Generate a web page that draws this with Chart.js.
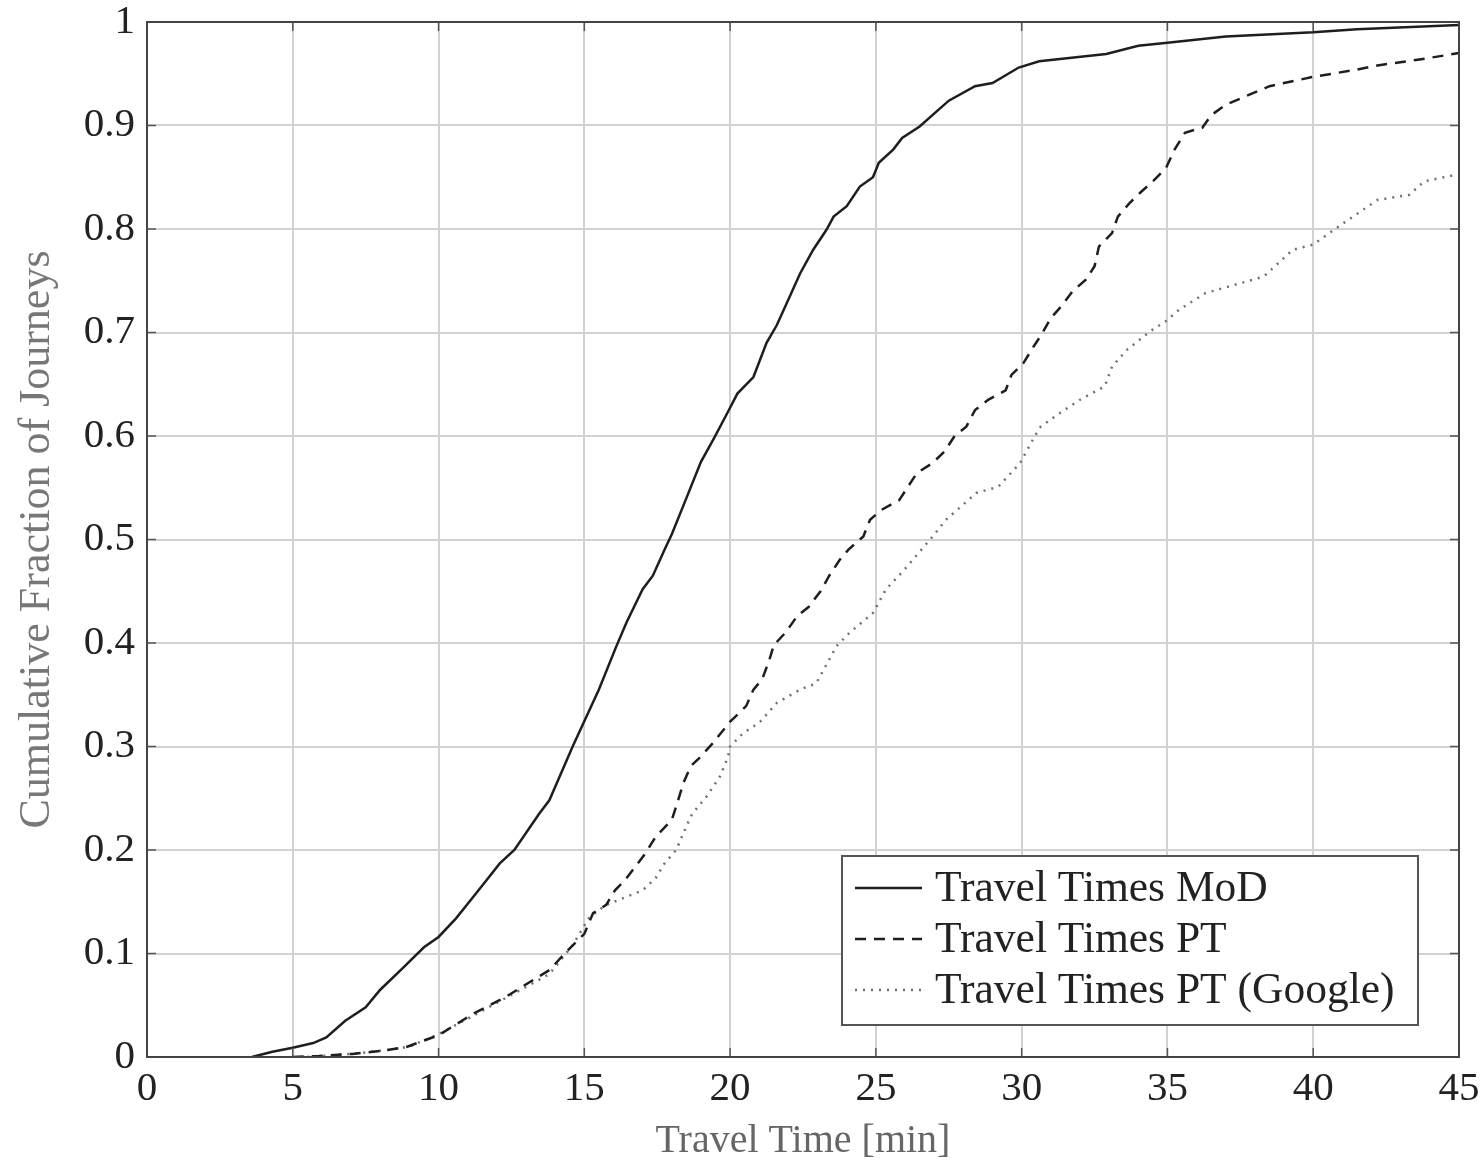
<!DOCTYPE html>
<html>
<head>
<meta charset="utf-8">
<title>Travel time CDF</title>
<script src="https://cdn.jsdelivr.net/npm/chart.js@4.4.1/dist/chart.umd.min.js"></script>
<style>
    html, body { margin: 0; padding: 0; background: #fff; }
    #chart { display: block; }
</style>
</head>
<body>
<canvas id="chart" width="1484" height="1165"></canvas>
<script>
// values (minutes / cumulative fraction)
const modTimes = [3.6, 4.3, 5, 5.7, 6.15, 6.8, 7.5, 8, 8.7, 9.5, 10, 10.6, 11.2, 11.65, 12.1, 12.6, 13.45, 13.8, 14.6, 15.5, 16.1, 16.45, 17, 17.35, 17.75, 18, 18.5, 19, 19.45, 19.9, 20.25, 20.8, 21.25, 21.6, 22.05, 22.4, 22.85, 23.3, 23.55, 24, 24.45, 24.9, 25.1, 25.6, 25.9, 26.5, 27.5, 28.4, 29, 29.9, 30.6, 32.9, 34, 35, 37, 40, 41.5, 45];
const modFrac = [0, 0.005, 0.009, 0.0135, 0.019, 0.035, 0.048, 0.065, 0.084, 0.106, 0.116, 0.134, 0.155, 0.171, 0.187, 0.2, 0.235, 0.248, 0.3, 0.355, 0.397, 0.42, 0.452, 0.465, 0.49, 0.505, 0.54, 0.575, 0.598, 0.622, 0.641, 0.657, 0.69, 0.707, 0.735, 0.757, 0.78, 0.799, 0.812, 0.822, 0.841, 0.85, 0.864, 0.877, 0.888, 0.899, 0.924, 0.938, 0.941, 0.956, 0.962, 0.969, 0.977, 0.98, 0.986, 0.99, 0.993, 0.997];

const ptTimes = [5, 5.9, 7.05, 8.2, 8.9, 10, 11.2, 12.3, 13.8, 14.5, 15, 15.3, 15.75, 16.05, 16.4, 17.1, 17.45, 18, 18.15, 18.4, 18.65, 18.95, 19.4, 20, 20.55, 20.8, 21.1, 21.35, 21.5, 21.9, 22.3, 22.7, 23.1, 23.4, 23.75, 24.05, 24.57, 24.8, 25.15, 25.8, 26.1, 26.4, 26.95, 27.35, 27.7, 28.1, 28.4, 28.85, 29.45, 29.65, 30.05, 30.4, 30.7, 31, 31.35, 31.75, 32.2, 32.5, 32.65, 33.1, 33.3, 33.7, 34.1, 34.5, 34.95, 35.25, 35.6, 36.2, 36.5, 37, 38.5, 40, 41.5, 42.2, 43.7, 45];
const ptFrac = [0, 0.001, 0.003, 0.0065, 0.0097, 0.021, 0.042, 0.058, 0.084, 0.105, 0.119, 0.139, 0.147, 0.161, 0.171, 0.197, 0.213, 0.229, 0.242, 0.265, 0.281, 0.289, 0.303, 0.324, 0.339, 0.355, 0.365, 0.384, 0.398, 0.41, 0.426, 0.435, 0.45, 0.465, 0.48, 0.49, 0.503, 0.519, 0.528, 0.538, 0.551, 0.564, 0.574, 0.585, 0.6, 0.609, 0.625, 0.635, 0.644, 0.659, 0.67, 0.686, 0.699, 0.714, 0.725, 0.74, 0.751, 0.764, 0.783, 0.796, 0.812, 0.825, 0.836, 0.846, 0.859, 0.877, 0.893, 0.898, 0.91, 0.92, 0.938, 0.947, 0.954, 0.958, 0.964, 0.97];

const googleTimes = [5.5, 7, 8.2, 9, 10, 11.2, 12.3, 13.8, 14.6, 15.17, 15.75, 17, 17.45, 17.75, 18.15, 18.5, 18.7, 19.2, 19.65, 19.93, 20, 20.45, 21, 21.6, 22.4, 22.95, 23.4, 23.65, 24.1, 24.9, 25.35, 25.95, 26.95, 27.4, 28.45, 29.2, 29.95, 30.45, 30.65, 31.3, 32, 32.85, 33.1, 33.6, 34.4, 34.95, 35.4, 36.3, 38.3, 39.3, 40, 40.9, 42.2, 43.3, 43.8, 45];
const googleFrac = [0, 0.003, 0.0065, 0.01, 0.022, 0.04, 0.057, 0.08, 0.108, 0.135, 0.147, 0.161, 0.173, 0.187, 0.2, 0.223, 0.235, 0.252, 0.271, 0.29, 0.3, 0.313, 0.323, 0.342, 0.355, 0.361, 0.384, 0.397, 0.41, 0.429, 0.452, 0.47, 0.503, 0.519, 0.545, 0.551, 0.574, 0.6, 0.609, 0.622, 0.635, 0.648, 0.667, 0.683, 0.701, 0.711, 0.722, 0.738, 0.754, 0.78, 0.785, 0.803, 0.828, 0.833, 0.846, 0.853];

const seriesNames = ["Travel Times MoD", "Travel Times PT", "Travel Times PT (Google)"];
const xTicks = [0, 5, 10, 15, 20, 25, 30, 35, 40, 45];
const yTicks = [0, 0.1, 0.2, 0.3, 0.4, 0.5, 0.6, 0.7, 0.8, 0.9, 1];

const serif = "'Liberation Serif', 'DejaVu Serif', serif";

function toPoints(xs, ys) {
    return xs.map((x, i) => ({ x: x, y: ys[i] }));
}

// frame around the plot area with small inward ticks (pgfplots look)
const framePlugin = {
    id: "frame",
    afterDatasetsDraw(chart) {
        const { ctx, chartArea: a, scales } = chart;
        ctx.save();
        ctx.strokeStyle = "#555";
        ctx.lineWidth = 1.5;
        ctx.beginPath();
        xTicks.forEach(v => {
            let px = scales.x.getPixelForValue(v);
            ctx.moveTo(px, a.bottom); ctx.lineTo(px, a.bottom - 9);
            ctx.moveTo(px, a.top); ctx.lineTo(px, a.top + 9);
        });
        yTicks.forEach(v => {
            let py = scales.y.getPixelForValue(v);
            ctx.moveTo(a.left, py); ctx.lineTo(a.left + 9, py);
            ctx.moveTo(a.right, py); ctx.lineTo(a.right - 9, py);
        });
        ctx.stroke();
        ctx.strokeStyle = "#444";
        ctx.lineWidth = 2;
        ctx.strokeRect(a.left, a.top, a.right - a.left, a.bottom - a.top);
        ctx.restore();
    }
};

// legend box in the lower right corner of the plot
const legendPlugin = {
    id: "boxLegend",
    afterDraw(chart) {
        const { ctx, chartArea: a } = chart;
        const right = a.right - 41, bottom = a.bottom - 32;
        const w = 576, h = 169;
        const left = right - w, top = bottom - h;
        ctx.save();
        ctx.fillStyle = "#fff";
        ctx.fillRect(left, top, w, h);
        ctx.strokeStyle = "#555";
        ctx.lineWidth = 2;
        ctx.strokeRect(left, top, w, h);
        ctx.font = "43.5px " + serif;
        ctx.textBaseline = "middle";
        chart.data.datasets.forEach((ds, i) => {
            let y = top + 32 + i * 51;
            ctx.strokeStyle = ds.borderColor;
            ctx.lineWidth = ds.borderWidth;
            ctx.setLineDash(ds.borderDash || []);
            ctx.beginPath();
            ctx.moveTo(left + 13, y);
            ctx.lineTo(left + 80, y);
            ctx.stroke();
            ctx.setLineDash([]);
            ctx.fillStyle = "#222";
            ctx.fillText(ds.label, left + 93, y + 2);
        });
        ctx.restore();
    }
};

new Chart(document.getElementById("chart").getContext("2d"), {
    type: "line",
    data: {
        datasets: [
            {
                label: seriesNames[0],
                data: toPoints(modTimes, modFrac),
                borderColor: "#1e1e1e",
                borderWidth: 2.5,
                pointRadius: 0,
                tension: 0
            },
            {
                label: seriesNames[1],
                data: toPoints(ptTimes, ptFrac),
                borderColor: "#1e1e1e",
                borderWidth: 2.5,
                borderDash: [11, 8],
                pointRadius: 0,
                tension: 0
            },
            {
                label: seriesNames[2],
                data: toPoints(googleTimes, googleFrac),
                borderColor: "#707070",
                borderWidth: 2.5,
                borderDash: [2, 6],
                pointRadius: 0,
                tension: 0
            }
        ]
    },
    options: {
        responsive: false,
        animation: false,
        devicePixelRatio: 1,
        layout: { padding: { top: 22, right: 25, left: 0, bottom: 0 } },
        plugins: {
            legend: { display: false },
            tooltip: { enabled: false }
        },
        scales: {
            x: {
                type: "linear",
                min: 0,
                max: 45,
                afterBuildTicks: s => { s.ticks = xTicks.map(v => ({ value: v })); },
                afterFit: s => { s.height = 108; s.paddingRight = 0; s.paddingLeft = 0; },
                grid: { color: "#d2d2d2", lineWidth: 2, drawTicks: false },
                border: { display: false },
                ticks: {
                    padding: 8,
                    color: "#222",
                    font: { family: serif, size: 41 },
                    maxRotation: 0
                },
                title: {
                    display: true,
                    text: "Travel Time [min]",
                    color: "#666",
                    font: { family: serif, size: 40 },
                    padding: { top: 0, bottom: 0 }
                }
            },
            y: {
                type: "linear",
                min: 0,
                max: 1,
                afterBuildTicks: s => { s.ticks = yTicks.map(v => ({ value: v })); },
                afterFit: s => { s.width = 147; s.paddingTop = 0; s.paddingBottom = 0; },
                grid: { color: "#d2d2d2", lineWidth: 2, drawTicks: false },
                border: { display: false },
                ticks: {
                    padding: 12,
                    color: "#222",
                    font: { family: serif, size: 41 },
                    callback: v => String(Math.round(v * 10) / 10)
                },
                title: {
                    display: true,
                    text: "Cumulative Fraction of Journeys",
                    color: "#777",
                    font: { family: serif, size: 44 },
                    padding: { top: 11, bottom: 0 }
                }
            }
        }
    },
    plugins: [framePlugin, legendPlugin]
});
</script>
</body>
</html>
